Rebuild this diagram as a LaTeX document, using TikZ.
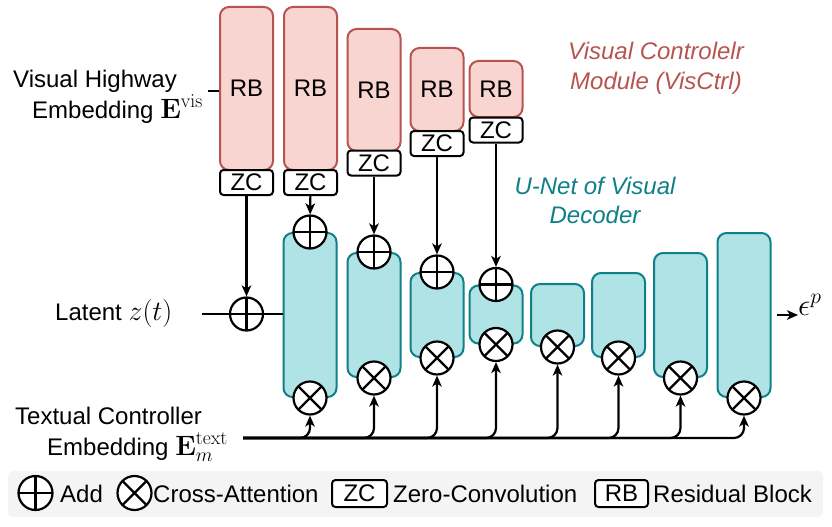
\RequirePackage{fix-cm}
\documentclass[tikz,border=0pt]{standalone}
\usepackage[no-math]{fontspec}
\setmainfont{Liberation Sans}
\usetikzlibrary{arrows.meta}
\definecolor{rbfill}{HTML}{F9D5D2}
\definecolor{rbdraw}{HTML}{B85450}
\definecolor{tfill}{HTML}{B0E3E6}
\definecolor{tdraw}{HTML}{0E8088}
\definecolor{legbg}{HTML}{F4F4F4}
\newcommand{\bigmath}[1]{{\fontsize{28}{30}\selectfont$#1$}}
\begin{document}
\begin{tikzpicture}[x=1pt,y=-1pt,
  every node/.style={font=\fontsize{24}{30}\selectfont},
  rbbox/.style={draw=rbdraw, fill=rbfill, line width=2pt, rounded corners=9pt, minimum width=53pt, inner sep=0pt},
  zcbox/.style={draw=black, fill=white, line width=2pt, rounded corners=3.5pt, minimum width=53pt, minimum height=25pt, inner sep=0pt},
  tbox/.style={draw=tdraw, fill=tfill, line width=2pt, rounded corners=9pt, minimum width=53pt, inner sep=0pt},
  addop/.style={circle, draw=black, fill=white, line width=2.2pt, minimum size=33pt, inner sep=0pt,
    path picture={\draw[line width=2.2pt] (path picture bounding box.north) -- (path picture bounding box.south)
      (path picture bounding box.west) -- (path picture bounding box.east);}},
  crossop/.style={circle, draw=black, fill=white, line width=2.2pt, minimum size=33pt, inner sep=0pt,
    path picture={\draw[line width=2.2pt] (path picture bounding box.north west) -- (path picture bounding box.south east)
      (path picture bounding box.south west) -- (path picture bounding box.north east);}},
  wire/.style={line width=2.2pt, draw=black},
  arr/.style={wire, -{Stealth[length=11pt,width=9.5pt,inset=3pt]}},
  lbl/.style={inner sep=0pt, anchor=base west}
]
\useasboundingbox (0,0) rectangle (832,527);

% Visual controller RB blocks
\node[rbbox, minimum height=163pt] (RB1) at (246.5,88.5) {RB};
\node[rbbox, minimum height=163pt] (RB2) at (310.5,88.5) {RB};
\node[rbbox, minimum height=122pt] (RB3) at (374,90) {RB};
\node[rbbox, minimum height=83pt] (RB4) at (437,89.5) {RB};
\node[rbbox, minimum height=56pt] (RB5) at (496,89) {RB};
\node[zcbox] (ZC1) at (246.5,182.5) {ZC};
\node[zcbox] (ZC2) at (310.5,182.5) {ZC};
\node[zcbox] (ZC3) at (374,163) {ZC};
\node[zcbox] (ZC4) at (437,143.5) {ZC};
\node[zcbox] (ZC5) at (496,130) {ZC};

% U-Net blocks
\node[tbox, minimum height=164pt] (T1) at (310,315) {};
\node[tbox, minimum height=124pt] (T2) at (374,315) {};
\node[tbox, minimum height=84pt] (T3) at (437,315) {};
\node[tbox, minimum height=58pt] (T4) at (496,314.5) {};
\node[tbox, minimum height=62pt] (T5) at (557.5,315) {};
\node[tbox, minimum height=84pt] (T6) at (618.5,315) {};
\node[tbox, minimum height=124pt] (T7) at (680.5,315) {};
\node[tbox, minimum height=164pt] (T8) at (744,315) {};

% operators
\node[addop] (A0) at (246.5,314) {};
\node[addop] (A1) at (T1.north) {};
\node[addop] (A2) at (T2.north) {};
\node[addop] (A3) at (T3.north) {};
\node[addop] (A4) at (T4.north) {};
\foreach \i in {1,...,8} { \node[crossop] (X\i) at (T\i.south) {}; }

% texts
\node[lbl] (vh1) at (13,87) {Visual Highway};
\node[lbl] (vh2) at (32,118) {Embedding \bigmath{\mathbf{E}^{\mathrm{vis}}}};
\node[lbl] (lat) at (55,320) {Latent \bigmath{z(t)}};
\node[lbl] (tc1) at (15,424) {Textual Controller};
\node[lbl] (tc2) at (47,455) {Embedding \bigmath{\mathbf{E}_m^{\mathrm{text}}}};
\node[inner sep=0pt, anchor=base, align=center, text=rbdraw, font=\fontsize{24}{30}\selectfont\itshape] (vc) at (656,89) {Visual Controlelr\\Module (VisCtrl)};
\node[inner sep=0pt, anchor=base, align=center, text=tdraw, font=\fontsize{24}{29}\selectfont\itshape] (un) at (595,223) {U-Net of Visual\\Decoder};
\node[lbl] (eps) at (798,315) {{\fontsize{31}{30}\selectfont$\epsilon^p$}};

% connectors
\coordinate (visend) at (208,91);
\draw[wire] (visend) -- (RB1.west |- visend);
\coordinate (latstart) at (202,314);
\draw[wire] (latstart) -- (A0.west);
\draw[wire] (A0.east) -- (T1.west |- A0.east);
\draw[arr] (ZC1) -- (A0);
\draw[arr] (ZC2) -- (A1);
\draw[arr] (ZC3) -- (A2);
\draw[arr] (ZC4) -- (A3);
\draw[arr] (ZC5) -- (A4);
\coordinate (tstart) at (243,438);
\foreach \i in {1,...,8} { \draw[arr, rounded corners=10pt] (tstart) -| (X\i); }
\coordinate (epsstart) at (777,315);
\draw[arr] (epsstart) -- (eps.west |- epsstart);

% legend
\fill[legbg, rounded corners=5pt] (8,471) rectangle (823,517);
\node[addop, minimum size=34pt] (LA) at (35.5,493) {};
\node[lbl] (LAt) at (60,502) {Add};
\node[crossop, minimum size=34pt] (LX) at (134.5,493) {};
\node[lbl] (LXt) at (153,502) {Cross-Attention};
\node[zcbox, minimum width=55pt, minimum height=27pt] (LZ) at (359.5,493.5) {ZC};
\node[lbl] (LZt) at (393,502) {Zero-Convolution};
\node[zcbox, minimum width=53pt, minimum height=27pt] (LR) at (621.5,493.5) {RB};
\node[lbl] (LRt) at (653,502) {Residual Block};
\end{tikzpicture}
\end{document}
